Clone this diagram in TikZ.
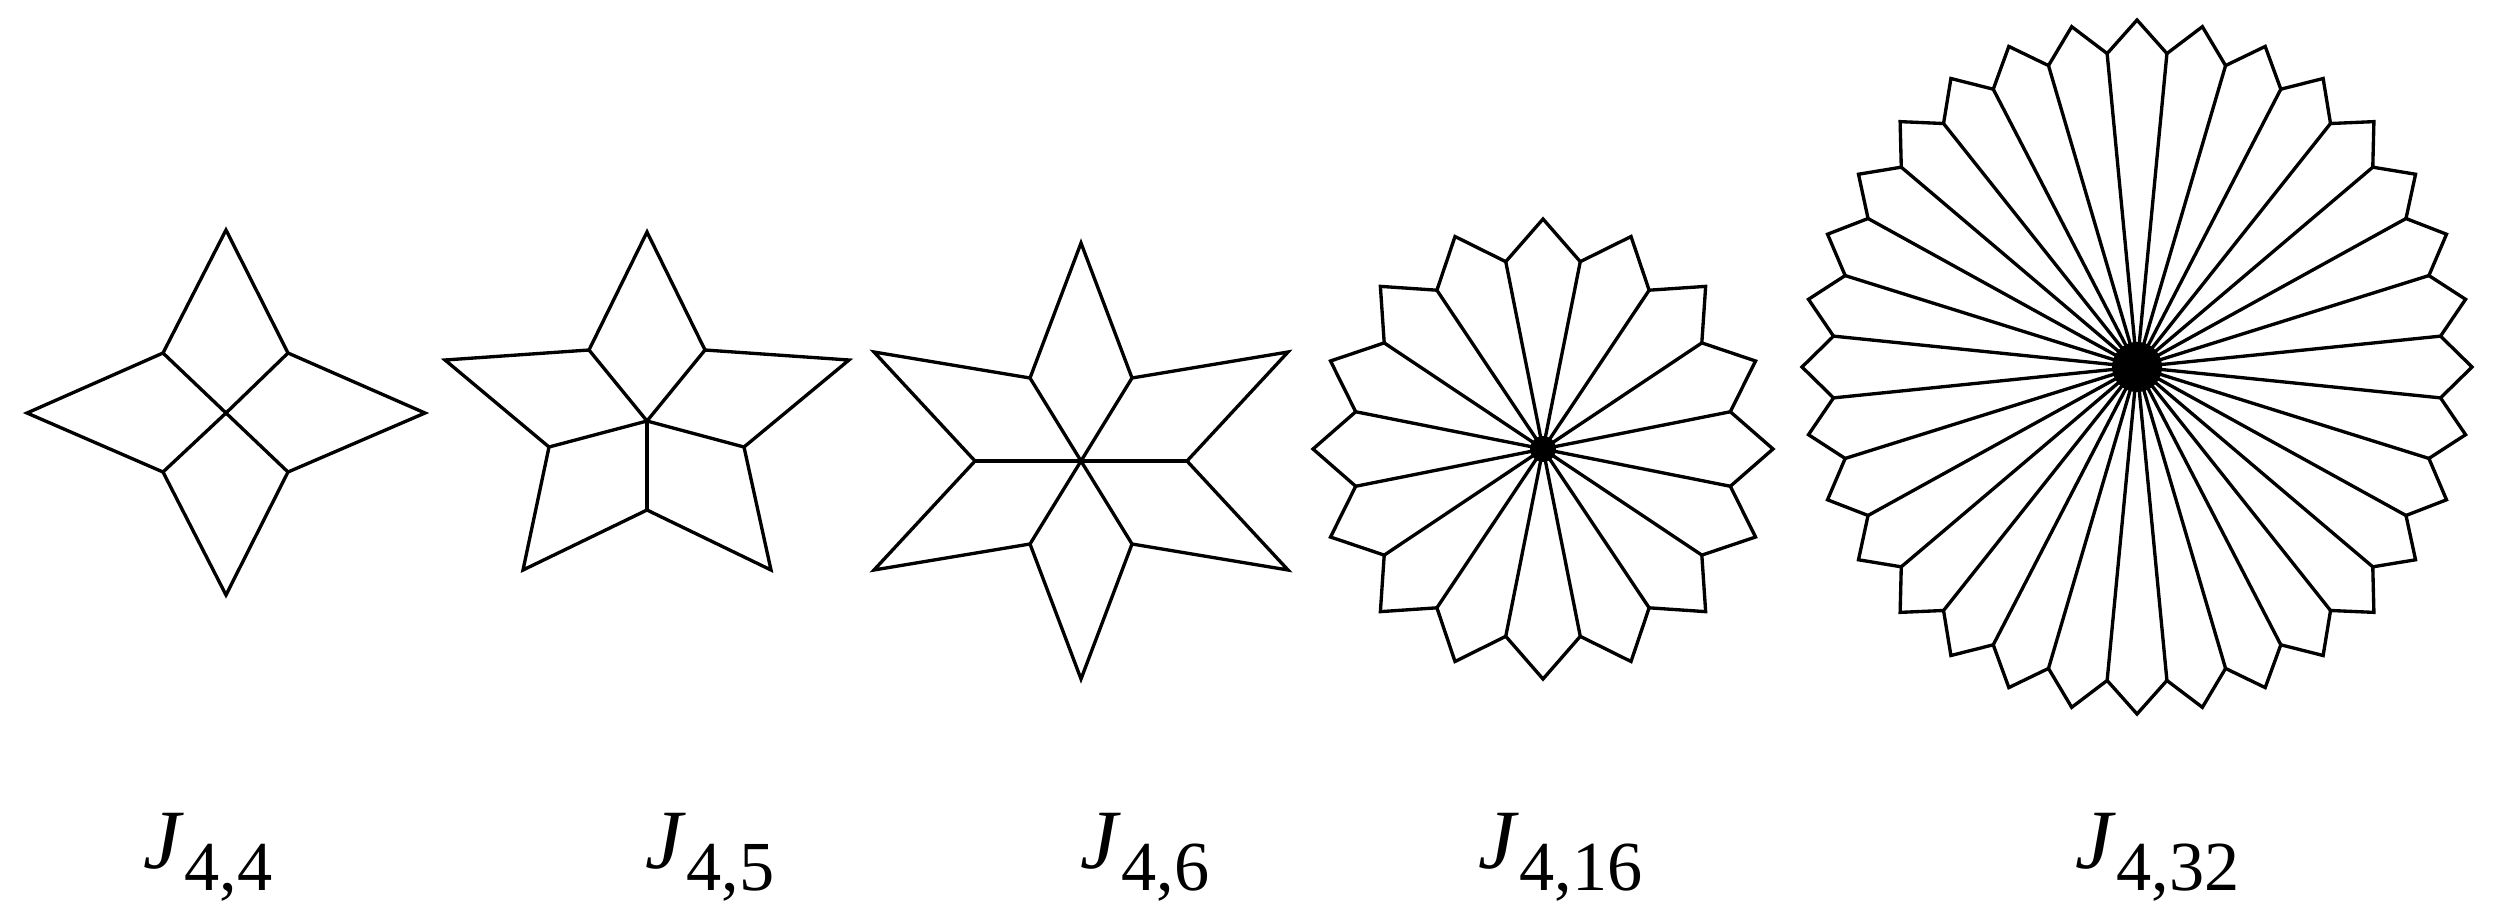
\documentclass[tikz,border=0pt]{standalone}
\usepackage{fontspec}
\setmainfont{Liberation Serif}
\usetikzlibrary{calc}
\begin{document}
\begin{tikzpicture}[x=0.01cm,y=-0.01cm,
  edge/.style={line width=0.95pt,black},
  hub/.style={fill=black},
  lbl/.style={anchor=base west,inner sep=0pt,font=\fontsize{24}{28}\selectfont}]
\useasboundingbox (0,0) rectangle (2495,915);

% ---------- J_{4,4}
\coordinate (a0) at (226,413);
\coordinate (a-t1) at (226,230);
\coordinate (a-t2) at (425,413);
\coordinate (a-t3) at (226,595);
\coordinate (a-t4) at (27,413);
\coordinate (a-i1) at (288,353);
\coordinate (a-i2) at (288,472);
\coordinate (a-i3) at (163,472);
\coordinate (a-i4) at (163,353);
\draw[edge] (a-t1) -- (a-i1) -- (a-t2) -- (a-i2) -- (a-t3) -- (a-i3) -- (a-t4) -- (a-i4) -- cycle;
\foreach \k in {1,...,4} \draw[edge] (a0) -- (a-i\k);

% ---------- J_{4,5}
\coordinate (b0) at (647,421);
\coordinate (b-t1) at (647,232);
\coordinate (b-t2) at (849,360);
\coordinate (b-t3) at (771,570);
\coordinate (b-t4) at (523,570);
\coordinate (b-t5) at (445,360);
\coordinate (b-i1) at (705,350);
\coordinate (b-i2) at (744,447);
\coordinate (b-i3) at (647,510);
\coordinate (b-i4) at (549,447);
\coordinate (b-i5) at (589,350);
\draw[edge] (b-t1) -- (b-i1) -- (b-t2) -- (b-i2) -- (b-t3) -- (b-i3) -- (b-t4) -- (b-i4) -- (b-t5) -- (b-i5) -- cycle;
\foreach \k in {1,...,5} \draw[edge] (b0) -- (b-i\k);

% ---------- J_{4,6}
\coordinate (c0) at (1081,461);
\coordinate (c-t1) at (1081,243);
\coordinate (c-t2) at (1288,352);
\coordinate (c-t3) at (1288,570);
\coordinate (c-t4) at (1081,679);
\coordinate (c-t5) at (874,570);
\coordinate (c-t6) at (874,352);
\coordinate (c-i1) at (1132,378);
\coordinate (c-i2) at (1187,461);
\coordinate (c-i3) at (1132,544);
\coordinate (c-i4) at (1030,544);
\coordinate (c-i5) at (975,461);
\coordinate (c-i6) at (1030,378);
\draw[edge] (c-t1) -- (c-i1) -- (c-t2) -- (c-i2) -- (c-t3) -- (c-i3) -- (c-t4) -- (c-i4) -- (c-t5) -- (c-i5) -- (c-t6) -- (c-i6) -- cycle;
\foreach \k in {1,...,6} \draw[edge] (c0) -- (c-i\k);

% ---------- J_{4,16}
\coordinate (d0) at (1543,449);
\foreach \k in {1,...,16} {
  \pgfmathsetmacro{\ang}{90-(\k-1)*22.5}
  \coordinate (d-t\k) at ($(d0)+({230*cos(\ang)},{-230*sin(\ang)})$);
  \coordinate (d-i\k) at ($(d0)+({191*cos(\ang-11.25)},{-191*sin(\ang-11.25)})$);
}
\draw[edge] (d-t1) \foreach \k [count=\j from 2] in {1,...,15} { -- (d-i\k) -- (d-t\j) } -- (d-i16) -- cycle;
\foreach \k in {1,...,16} \draw[edge] (d0) -- (d-i\k);
\fill[hub] (d0) circle (13);

% ---------- J_{4,32}
\coordinate (e0) at (2137,367);
\foreach \k in {1,...,32} {
  \pgfmathsetmacro{\ang}{90-(\k-1)*11.25}
  \coordinate (e-t\k) at ($(e0)+({335*cos(\ang)},{-347*sin(\ang)})$);
  \coordinate (e-i\k) at ($(e0)+({305*cos(\ang-5.625)},{-315*sin(\ang-5.625)})$);
}
\draw[edge] (e-t1) \foreach \k [count=\j from 2] in {1,...,31} { -- (e-i\k) -- (e-t\j) } -- (e-i32) -- cycle;
\foreach \k in {1,...,32} \draw[edge] (e0) -- (e-i\k);
\fill[hub] (e0) circle (25);

% ---------- labels
\node[lbl] (la) at (143,868) {\textit{J}\raisebox{-0.22cm}{\fontsize{20}{24}\selectfont 4,4}};
\node[lbl] (lb) at (645,868) {\textit{J}\raisebox{-0.22cm}{\fontsize{20}{24}\selectfont 4,5}};
\node[lbl] (lc) at (1080,868) {\textit{J}\raisebox{-0.22cm}{\fontsize{20}{24}\selectfont 4,6}};
\node[lbl] (ld) at (1478,868) {\textit{J}\raisebox{-0.22cm}{\fontsize{20}{24}\selectfont 4,16}};
\node[lbl] (le) at (2075,868) {\textit{J}\raisebox{-0.22cm}{\fontsize{20}{24}\selectfont 4,32}};
\end{tikzpicture}
\end{document}
